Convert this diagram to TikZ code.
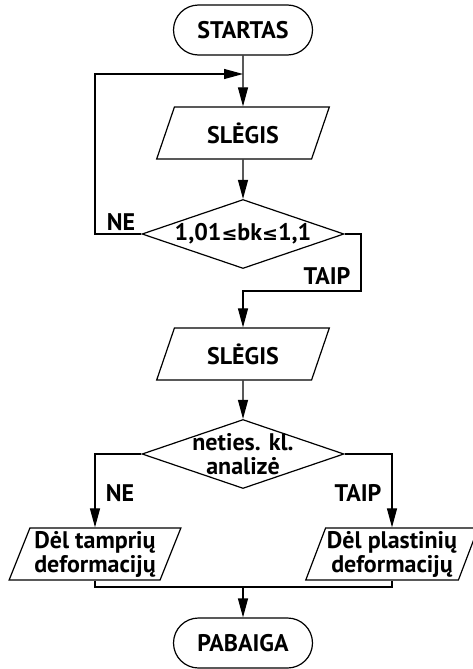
\documentclass[tikz,border=0pt]{standalone}
\usepackage{fontspec}
\setmainfont{PT Sans}
\newfontfamily\symfont{DejaVu Sans}
\newcommand{\lessequal}{{\symfont\fontsize{9.5}{9.5}\selectfont ≤}}
\usetikzlibrary{arrows.meta,shapes.geometric}

\begin{document}
\begin{tikzpicture}[x=0.5pt,y=-0.5pt,line width=0.6pt,
	font=\fontsize{12}{12}\selectfont\bfseries,
	terminal/.style={draw,rounded corners=12.5pt,minimum width=69.5pt,minimum height=25pt},
	io/.style={draw,trapezium,trapezium left angle=68,trapezium right angle=112,
	           trapezium stretches=true,minimum width=86.5pt,minimum height=26pt,
	           inner xsep=0pt,inner ysep=0.5pt,align=center},
	decision/.style={draw,diamond,aspect=3,inner xsep=0pt,inner ysep=-8pt,
	                 minimum width=101pt,minimum height=34.5pt,align=center},
	>={Triangle[length=9.5pt,width=5pt]}]
	\useasboundingbox (0,0) rectangle (472,669);

	\begin{scope}
	    \node[terminal] (start) at (243,30) {STARTAS};
	    \node[io] (in1) at (243,133) {SLĖGIS};
	    \node[decision] (dec1) at (243,234) {1,01\lessequal bk\lessequal 1,1};
	    \node[io] (in2) at (243,354) {SLĖGIS};
	    \node[decision] (dec2) at (243,454) {neties. kl.\\analizė};
	    \node[io] (elastic) at (95,554) {Dėl tamprių\\deformacijų};
	    \node[io] (plastic) at (392,554) {Dėl plastinių\\deformacijų};
	    \node[terminal] (stop) at (243,643) {PABAIGA};
	\end{scope}

	\node (no1) at (121,222) {NE};
	\node (yes1) at (327,276) {TAIP};
	\node (no2) at (120,493) {NE};
	\node (yes2) at (358,493) {TAIP};

	\coordinate (loop) at (95,74);
	\coordinate (join) at (243,74);
	\coordinate (turn) at (361,291);
	\coordinate (merge) at (243,587);

	\begin{scope}
	    \draw[->] (start) -- (in1);
	    \draw[->] (dec1.west) -| (loop) -- (join);
	    \draw[->] (in1) -- (dec1);
	    \draw[->] (dec1.east) -| (turn) -| (in2);
	    \draw[->] (in2) -- (dec2);
	    \draw[->] (dec2.west) -| (elastic);
	    \draw[->] (dec2.east) -| (plastic);
	    \draw (elastic) |- (merge) -| (plastic);
	    \draw[->] (merge) -- (stop);
	\end{scope}
\end{tikzpicture}
\end{document}
